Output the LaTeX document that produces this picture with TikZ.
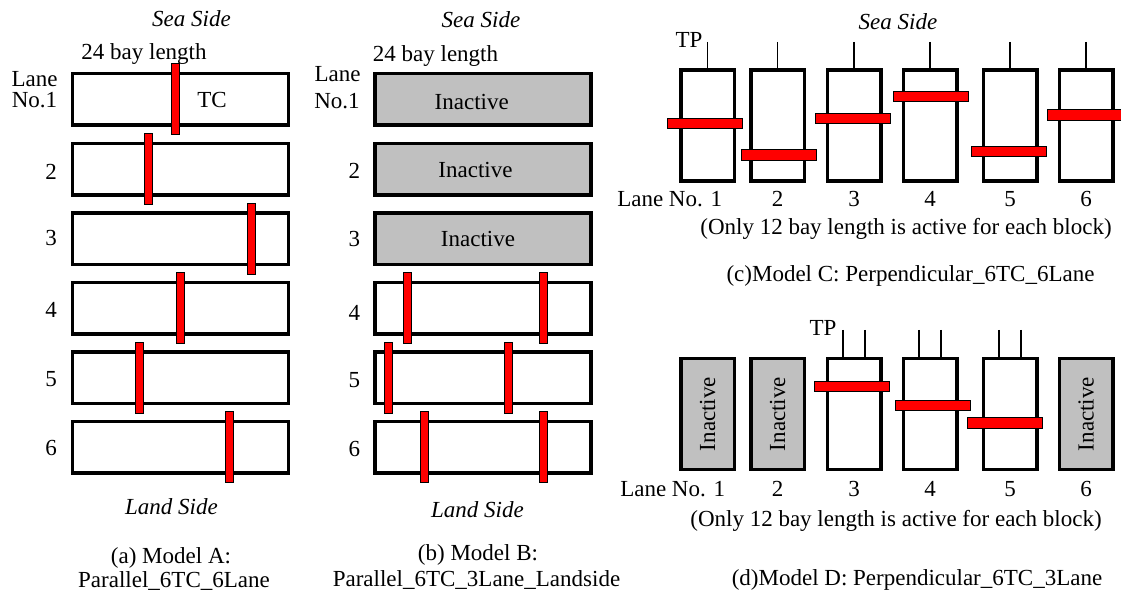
\documentclass[tikz,border=0pt]{standalone}
\usepackage{fontspec}
\setmainfont{Liberation Serif}
\definecolor{idlegray}{RGB}{192,192,192}
\newcommand{\figfont}{\fontsize{11.5pt}{13pt}\selectfont}
\begin{document}
\begin{tikzpicture}[x=0.5pt, y=-0.5pt,
  every node/.style={font=\figfont, inner sep=0pt, outer sep=0pt},
  lane/.style={draw, line width=1.75pt, minimum width=108pt, minimum height=25.75pt},
  blk/.style={draw, line width=1.75pt, minimum width=26.75pt, minimum height=55.5pt},
  idle/.style={fill=idlegray},
  vbar/.style={draw, line width=0.5pt, fill=red, minimum width=4pt, minimum height=35.5pt},
  hbar/.style={draw, line width=0.5pt, fill=red, minimum width=37.5pt, minimum height=5.25pt},
  tpline/.style={line width=0.65pt},
  lbl/.style={anchor=base},
  side/.style={anchor=base, font=\figfont\itshape}]
\useasboundingbox (0,0) rectangle (1121,592);

% (a) Model A
\foreach \i/\y in {1/99.5,2/169.1,3/238.7,4/308.3,5/377.9,6/447.5}
  \node[lane] (a\i) at (180.5,\y) {};
\foreach \i/\x in {1/175.5,2/148.5,3/251.5,4/180.5,5/139.5,6/229.5}
  \node[vbar] (ta\i) at (\x,0 |- a\i) {};
\foreach \i/\y in {2/180,3/246,4/318,5/387,6/456}
  \node[anchor=base east] (na\i) at (57,\y) {\i};
\node[lbl] (lanea) at (34.5,87) {Lane};
\node[lbl] (noa) at (34.5,108) {No.1};
\node[lbl] (tclabel) at (212,108) {TC};
\node[lbl] (baya) at (144,60) {24 bay length};
\node[side] (seaa) at (191.5,27) {Sea Side};
\node[side] (landa) at (171.5,515) {Land Side};
\node[lbl] (capa1) at (171,564) {(a) Model A:};
\node[lbl] (capa2) at (174,588) {Parallel\_6TC\_6Lane};

% (b) Model B
\foreach \i/\y in {1/99.5,2/169.1,3/238.7}
  \node[lane, idle] (b\i) at (483,\y) {};
\foreach \i/\y in {4/308.3,5/377.9,6/447.5}
  \node[lane] (b\i) at (483,\y) {};
\foreach \i/\x/\y in {1/471.7/110,2/475.5/178,3/478/247}
  \node[lbl] (ib\i) at (\x,\y) {Inactive};
\foreach \i/\x/\xx in {4/407/543.7,5/388/508.7,6/424.7/543.7}{
  \node[vbar] (tb\i l) at (\x,0 |- b\i) {};
  \node[vbar] (tb\i r) at (\xx,0 |- b\i) {};
}
\foreach \i/\y in {2/179,3/247,4/321,5/388,6/457}
  \node[anchor=base east] (nb\i) at (360,\y) {\i};
\node[lbl] (laneb) at (337.5,82) {Lane};
\node[lbl] (nob) at (337,109) {No.1};
\node[lbl] (bayb) at (435.5,62) {24 bay length};
\node[side] (seab) at (481,28) {Sea Side};
\node[side] (landb) at (477.5,518) {Land Side};
\node[lbl] (capb1) at (478,561) {(b) Model B:};
\node[lbl] (capb2) at (476.5,587) {Parallel\_6TC\_3Lane\_Landside};

% (c) Model C
\foreach \i/\x in {1/707.5,2/777.5,3/854,4/930,5/1010,6/1086}{
  \node[blk] (c\i) at (\x,125.5) {};
  \coordinate (tpc\i) at (\x,42);
  \draw[tpline] (tpc\i) -- (c\i.north);
}
\foreach \i/\x/\y in {1/704.8/123.5,2/779.3/155,3/853.3/118.5,4/930.5/96.5,5/1009.3/151.5,6/1085/115}
  \node[hbar] (tc\i) at (\x,\y) {};
\node[lbl] (tpclabel) at (689,48) {TP};
\node[anchor=base east] (nc1) at (722,207) {Lane No. 1};
\foreach \i in {2,...,6}
  \node[lbl] (nc\i) at (c\i |- 0,207) {\i};
\node[lbl] (onlyc) at (906,235) {(Only 12 bay length is active for each block)};
\node[side] (seac) at (898,30) {Sea Side};
\node[lbl] (capc) at (910.5,282) {(c)Model C: Perpendicular\_6TC\_6Lane};

% (d) Model D
\foreach \i/\x in {1/707.5,2/777.5,6/1086}{
  \node[blk, idle] (d\i) at (\x,414) {};
  \node[rotate=90] (id\i) at (d\i) {Inactive};
}
\foreach \i/\x in {3/854,4/930,5/1010}{
  \node[blk] (d\i) at (\x,414) {};
  \coordinate (tpd\i l) at (\x-11,330);
  \coordinate (tpd\i r) at (\x+11,330);
  \draw[tpline] (tpd\i l) -- (tpd\i l |- d\i.north);
  \draw[tpline] (tpd\i r) -- (tpd\i r |- d\i.north);
}
\foreach \i/\x/\y in {3/852/386.5,4/933/405.5,5/1005.3/423}
  \node[hbar] (td\i) at (\x,\y) {};
\node[lbl] (tpdlabel) at (823,336) {TP};
\node[anchor=base east] (nd1) at (725,497) {Lane No. 1};
\foreach \i in {2,...,6}
  \node[lbl] (nd\i) at (d\i |- 0,497) {\i};
\node[lbl] (onlyd) at (896,527) {(Only 12 bay length is active for each block)};
\node[lbl] (capd) at (917,586) {(d)Model D: Perpendicular\_6TC\_3Lane};
\end{tikzpicture}
\end{document}
